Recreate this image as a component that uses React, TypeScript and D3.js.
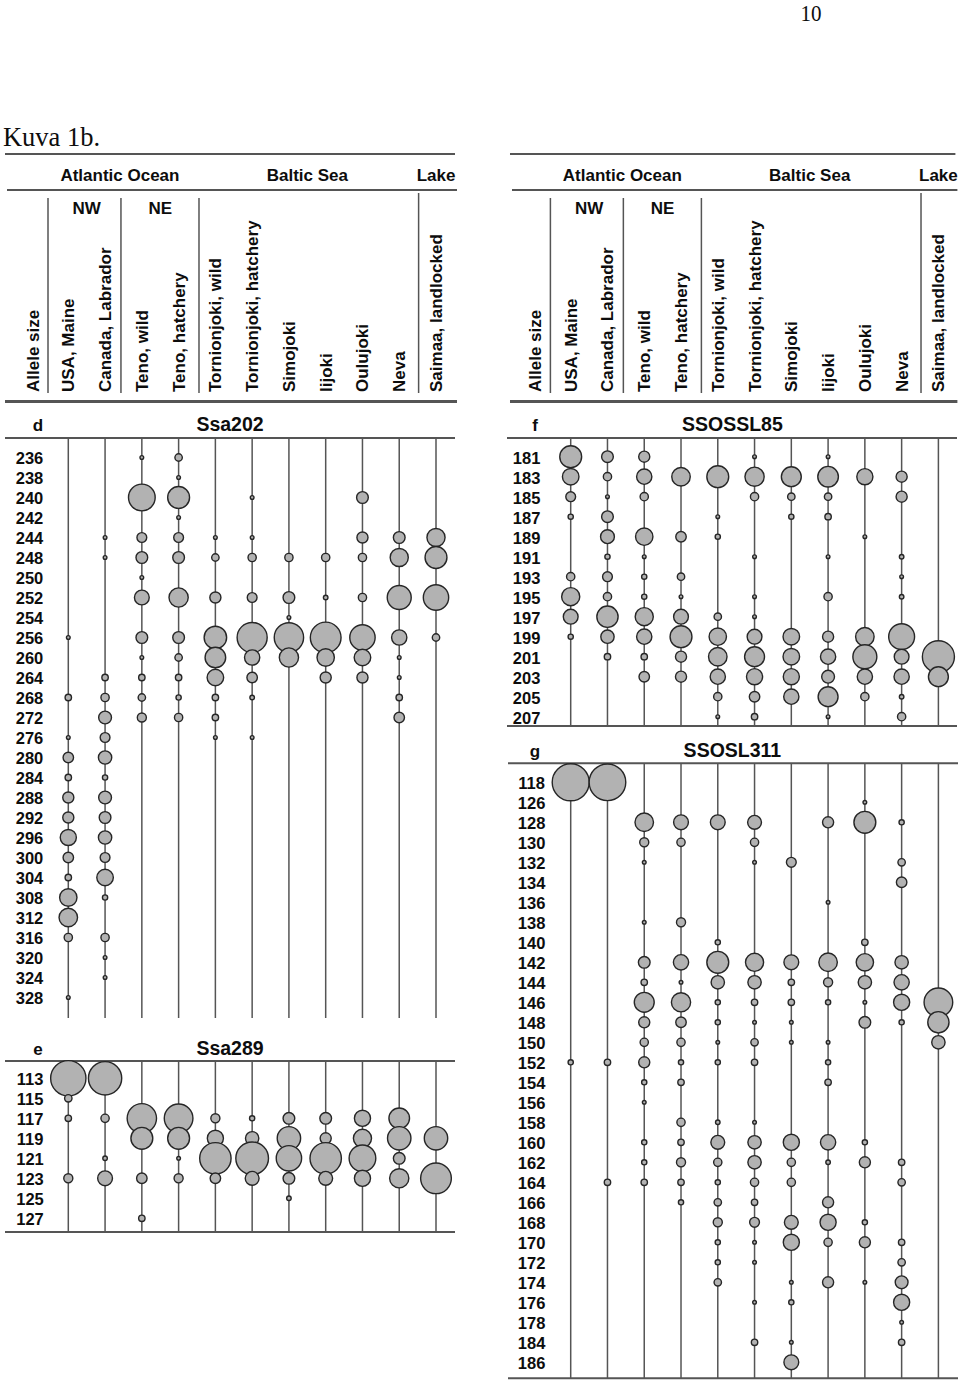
import React from "react";
import * as d3 from "d3";

// ---------- data ----------
const populations = [
  "USA, Maine",
  "Canada, Labrador",
  "Teno, wild",
  "Teno, hatchery",
  "Tornionjoki, wild",
  "Tornionjoki, hatchery",
  "Simojoki",
  "Iijoki",
  "Oulujoki",
  "Neva",
  "Saimaa, landlocked",
];
const regionLabels = ["Atlantic Ocean", "Baltic Sea", "Lake"];
const subregionLabels = ["NW", "NE"];
const alleleAxisTitle = "Allele size";

// allele frequencies, one row per allele, columns in `populations` order (missing = 0)
const ssa202Alleles = [236, 238, 240, 242, 244, 248, 250, 252, 254, 256, 260, 264, 268, 272, 276, 280, 284, 288, 292, 296, 300, 304, 308, 312, 316, 320, 324, 328];
const ssa202Freq = [
  [0, 0, 0.01, 0.04],
  [0, 0, 0, 0.01],
  [0, 0, 0.52, 0.35, 0, 0.01, 0, 0, 0.1],
  [0, 0, 0, 0.01],
  [0, 0.01, 0.07, 0.07, 0.01, 0.01, 0, 0, 0.09, 0.1, 0.24],
  [0, 0.01, 0.1, 0.1, 0.04, 0.05, 0.05, 0.05, 0.05, 0.24, 0.35],
  [0, 0, 0.01],
  [0, 0, 0.16, 0.27, 0.09, 0.07, 0.1, 0.015, 0.05, 0.42, 0.47],
  [0, 0, 0, 0, 0, 0, 0.01],
  [0.01, 0, 0.1, 0.1, 0.37, 0.66, 0.63, 0.69, 0.47, 0.17, 0.04],
  [0, 0, 0.01, 0.04, 0.31, 0.17, 0.27, 0.22, 0.2, 0.01],
  [0, 0.03, 0.03, 0.03, 0.2, 0.08, 0, 0.09, 0.09, 0.01],
  [0.03, 0.05, 0.04, 0.02, 0.03, 0.015, 0, 0, 0, 0.03],
  [0, 0.12, 0.06, 0.05, 0.03, 0, 0, 0, 0, 0.08],
  [0.01, 0.07, 0, 0, 0.01, 0.01],
  [0.08, 0.13],
  [0.03, 0.02],
  [0.09, 0.12],
  [0.09, 0.1],
  [0.19, 0.13],
  [0.08, 0.07],
  [0.03, 0.2],
  [0.22, 0.02],
  [0.25, 0],
  [0.05, 0.05],
  [0, 0.01],
  [0, 0.01],
  [0.01, 0],
];

const ssa289Alleles = [113, 115, 117, 119, 121, 123, 125, 127];
const ssa289Freq = [
  [0.91, 0.81],
  [0.04],
  [0.03, 0.05, 0.63, 0.6, 0.06, 0.02, 0.1, 0.1, 0.19, 0.31, 0],
  [0, 0, 0.35, 0.35, 0.19, 0.13, 0.4, 0.09, 0.24, 0.4, 0.4],
  [0, 0.015, 0, 0.01, 0.72, 0.78, 0.47, 0.72, 0.52, 0.1, 0],
  [0.06, 0.16, 0.08, 0.06, 0.08, 0.14, 0.1, 0.14, 0.19, 0.27, 0.69],
  [0, 0, 0, 0, 0, 0, 0.015],
  [0, 0, 0.03],
];

const ssossl85Alleles = [181, 183, 185, 187, 189, 191, 193, 195, 197, 199, 201, 203, 205, 207];
const ssossl85Freq = [
  [0.35, 0.1, 0.09, 0, 0, 0.01, 0, 0.01],
  [0.2, 0.05, 0.17, 0.25, 0.35, 0.27, 0.29, 0.31, 0.19, 0.09],
  [0.07, 0.01, 0.05, 0, 0, 0.05, 0.04, 0.04, 0, 0.09],
  [0.02, 0.1, 0, 0, 0.01, 0, 0.02, 0.03],
  [0, 0.14, 0.22, 0.08, 0.02, 0, 0, 0, 0.01],
  [0, 0.02, 0.01, 0, 0, 0.01, 0, 0.01, 0, 0.015],
  [0.05, 0.07, 0.02, 0.04, 0, 0, 0, 0, 0, 0.01],
  [0.24, 0.05, 0.02, 0.01, 0, 0.01, 0, 0.05, 0, 0.015],
  [0.16, 0.33, 0.24, 0.16, 0.04, 0.01],
  [0.02, 0.13, 0.17, 0.35, 0.22, 0.16, 0.2, 0.09, 0.25, 0.49, 0],
  [0, 0.03, 0.03, 0.09, 0.25, 0.29, 0.2, 0.17, 0.42, 0.16, 0.75],
  [0, 0, 0.08, 0.09, 0.17, 0.19, 0.19, 0.12, 0.17, 0.17, 0.29],
  [0, 0, 0, 0, 0.05, 0.08, 0.17, 0.29, 0.05, 0.015],
  [0, 0, 0, 0, 0.01, 0.03, 0, 0.01, 0, 0.05],
];

const ssosl311Alleles = [118, 126, 128, 130, 132, 134, 136, 138, 140, 142, 144, 146, 148, 150, 152, 154, 156, 158, 160, 162, 164, 166, 168, 170, 172, 174, 176, 178, 184, 186];
const ssosl311Freq = [
  [1.0, 0.98],
  [0, 0, 0, 0, 0, 0, 0, 0, 0.01],
  [0, 0, 0.25, 0.16, 0.16, 0.14, 0, 0.09, 0.35, 0.02],
  [0, 0, 0.06, 0.05, 0, 0.05],
  [0, 0, 0.01, 0, 0, 0.01, 0.07, 0, 0, 0.04],
  [0, 0, 0, 0, 0, 0, 0, 0, 0, 0.08],
  [0, 0, 0, 0, 0, 0, 0, 0.01],
  [0, 0, 0.01, 0.06],
  [0, 0, 0, 0, 0.02, 0, 0, 0, 0.03],
  [0, 0, 0.1, 0.17, 0.35, 0.24, 0.16, 0.25, 0.22, 0.13],
  [0, 0, 0.03, 0.01, 0.13, 0.13, 0.03, 0.06, 0.13, 0.17],
  [0, 0, 0.29, 0.27, 0.02, 0.03, 0.03, 0.02, 0.01, 0.19, 0.6],
  [0, 0, 0.09, 0.08, 0.02, 0.01, 0.01, 0, 0.1, 0.02, 0.33],
  [0, 0, 0.05, 0.05, 0.01, 0.04, 0.01, 0.01, 0, 0, 0.13],
  [0.02, 0.03, 0.09, 0.02, 0.02, 0.03, 0, 0.02],
  [0, 0, 0.02, 0.03, 0, 0, 0, 0.03],
  [0, 0, 0.01],
  [0, 0, 0, 0.05, 0.015, 0.01],
  [0, 0, 0.02, 0.03, 0.14, 0.13, 0.19, 0.17, 0.02],
  [0, 0, 0.02, 0.06, 0.05, 0.13, 0.05, 0.015, 0.09, 0.03],
  [0, 0.03, 0.03, 0.03, 0.02, 0.05, 0.05, 0, 0, 0.04],
  [0, 0, 0, 0.02, 0.04, 0.03, 0, 0.09],
  [0, 0, 0, 0, 0.06, 0.07, 0.14, 0.19, 0.02],
  [0, 0, 0, 0, 0.02, 0.01, 0.19, 0.05, 0.09, 0.03],
  [0, 0, 0, 0, 0.02, 0.01, 0, 0, 0, 0.04],
  [0, 0, 0, 0, 0.04, 0, 0.01, 0.09, 0.01, 0.12],
  [0, 0, 0, 0, 0, 0.01, 0.02, 0, 0, 0.19],
  [0, 0, 0, 0, 0, 0, 0, 0, 0, 0.01],
  [0, 0, 0, 0, 0, 0.03, 0.01, 0, 0, 0.03],
  [0, 0, 0, 0, 0, 0, 0.16],
];

// ---------- layout ----------
const W = 960;
const H = 1380;
const SANS = "'Liberation Sans', Arial, Helvetica, sans-serif";
const SERIF = "'Liberation Serif', 'Times New Roman', serif";
const INK = "#0d0d0d";
const LINE = "#555";
const RIGHT_OX = 502.4;

const x = d3.scalePoint<string>().domain(populations).range([68.3, 436]);
const rScale = d3.scaleSqrt().domain([0, 1]).range([0, 18.5]);

function Header({ ox, lineL, lineR }: { ox: number; lineL: number; lineR: number }) {
  const c = (i: number) => x(populations[i]) as number;
  const mid = (a: number, b: number) => (c(a) + c(b)) / 2;
  const bold = { fontFamily: SANS, fontWeight: 700, fill: INK, fontSize: 17 } as const;
  const seps = [
    { x: c(0) - 20.3, y1: 198 },
    { x: mid(1, 2) - 2.5, y1: 198 },
    { x: mid(3, 4) + 2, y1: 198 },
    { x: mid(9, 10) + 1, y1: 193 },
  ];
  return (
    <g transform={`translate(${ox},0)`}>
      <line x1={lineL} x2={lineR} y1={154} y2={154} stroke={LINE} strokeWidth={2} />
      <text x={(c(0) + c(3)) / 2 - 3.5} y={175} dy="0.35em" textAnchor="middle" {...bold}>{regionLabels[0]}</text>
      <text x={(c(4) + c(9)) / 2} y={175} dy="0.35em" textAnchor="middle" {...bold}>{regionLabels[1]}</text>
      <text x={c(10)} y={175} dy="0.35em" textAnchor="middle" {...bold}>{regionLabels[2]}</text>
      <line x1={lineL + 2} x2={lineR + 2} y1={190} y2={190} stroke={LINE} strokeWidth={2} />
      {seps.map((s, i) => (
        <line key={i} x1={s.x} x2={s.x} y1={s.y1} y2={393} stroke={LINE} strokeWidth={1.5} />
      ))}
      <text x={mid(0, 1)} y={208} dy="0.35em" textAnchor="middle" {...bold}>{subregionLabels[0]}</text>
      <text x={mid(2, 3)} y={208} dy="0.35em" textAnchor="middle" {...bold}>{subregionLabels[1]}</text>
      <text transform={`translate(${33},${392}) rotate(-90)`} dy="0.35em" textAnchor="start" {...bold}>{alleleAxisTitle}</text>
      {populations.map((p) => (
        <text key={p} transform={`translate(${x(p)},${392}) rotate(-90)`} dy="0.35em" textAnchor="start" {...bold}>{p}</text>
      ))}
      <line x1={lineL} x2={lineR + 2} y1={401.5} y2={401.5} stroke={LINE} strokeWidth={3} />
    </g>
  );
}

type PanelProps = {
  ox: number;
  letter: string;
  title: string;
  alleles: number[];
  freq: number[][];
  titleY: number;
  lineY: number;
  firstRowY: number;
  bottomY: number;
  bottomLine: boolean;
  labelX: number;
  letterX: number;
  lineL: number;
  lineR: number;
};

function Panel(p: PanelProps) {
  const y = d3
    .scalePoint<number>()
    .domain(p.alleles)
    .range([p.firstRowY, p.firstRowY + 20 * (p.alleles.length - 1)]);
  const dots: { key: string; cx: number; cy: number; r: number }[] = [];
  p.alleles.forEach((a, i) => {
    populations.forEach((pop, j) => {
      const f = p.freq[i][j] || 0;
      if (f > 0) dots.push({ key: `${a}-${j}`, cx: x(pop) as number, cy: y(a) as number, r: rScale(f) });
    });
  });
  return (
    <g transform={`translate(${p.ox},0)`}>
      <text x={p.letterX} y={p.titleY} dy="0.35em" textAnchor="middle" fontFamily={SANS} fontWeight={700} fontSize={17} fill={INK}>{p.letter}</text>
      <text x={230} y={p.titleY - 1} dy="0.35em" textAnchor="middle" fontFamily={SANS} fontWeight={700} fontSize={19.5} fill={INK}>{p.title}</text>
      <line x1={p.lineL} x2={p.lineR} y1={p.lineY} y2={p.lineY} stroke={LINE} strokeWidth={2} />
      {populations.map((pop) => (
        <line key={pop} x1={x(pop)} x2={x(pop)} y1={p.lineY} y2={p.bottomY} stroke={LINE} strokeWidth={1.5} />
      ))}
      {p.bottomLine && (
        <line x1={p.lineL} x2={p.lineR} y1={p.bottomY} y2={p.bottomY} stroke={LINE} strokeWidth={2} />
      )}
      {p.alleles.map((a) => (
        <text key={a} x={p.labelX} y={(y(a) as number) + 1} dy="0.36em" textAnchor="middle" fontFamily={SANS} fontWeight={700} fontSize={16.5} fill={INK}>{a}</text>
      ))}
      {dots.map((d) => (
        <circle key={d.key} cx={d.cx} cy={d.cy} r={d.r} fill="#b2b2b2" stroke="#262626" strokeWidth={1.4} />
      ))}
    </g>
  );
}

export default function App() {
  return (
    <svg
      width={W}
      height={H}
      viewBox={`0 0 ${W} ${H}`}
      style={{ position: "absolute", left: 0, top: 0, display: "block", background: "#fff" }}
    >
      <rect width={W} height={H} fill="#fff" />
      <text x={811} y={21} textAnchor="middle" fontFamily={SERIF} fontSize={24} textLength={21} lengthAdjust="spacingAndGlyphs" fill={INK}>10</text>
      <text x={3} y={146} fontFamily={SERIF} fontSize={28} textLength={97} lengthAdjust="spacingAndGlyphs" fill={INK}>Kuva 1b.</text>

      <Header ox={0} lineL={5} lineR={455} />
      <Header ox={RIGHT_OX} lineL={7.6} lineR={453} />

      <Panel ox={0} letter="d" title="Ssa202" alleles={ssa202Alleles} freq={ssa202Freq}
        titleY={425} lineY={438} firstRowY={457.5} bottomY={1018} bottomLine={false}
        labelX={29.5} letterX={38} lineL={5} lineR={455} />
      <Panel ox={0} letter="e" title="Ssa289" alleles={ssa289Alleles} freq={ssa289Freq}
        titleY={1049} lineY={1061} firstRowY={1078.3} bottomY={1232} bottomLine={true}
        labelX={30} letterX={38} lineL={5} lineR={455} />
      <Panel ox={RIGHT_OX} letter="f" title="SSOSSL85" alleles={ssossl85Alleles} freq={ssossl85Freq}
        titleY={425} lineY={438} firstRowY={456.7} bottomY={726} bottomLine={true}
        labelX={24.2} letterX={32.6} lineL={4.6} lineR={454.6} />
      <Panel ox={RIGHT_OX} letter="g" title="SSOSL311" alleles={ssosl311Alleles} freq={ssosl311Freq}
        titleY={751} lineY={763.3} firstRowY={782.3} bottomY={1378.3} bottomLine={true}
        labelX={29.2} letterX={32.6} lineL={5.6} lineR={455.6} />
    </svg>
  );
}
